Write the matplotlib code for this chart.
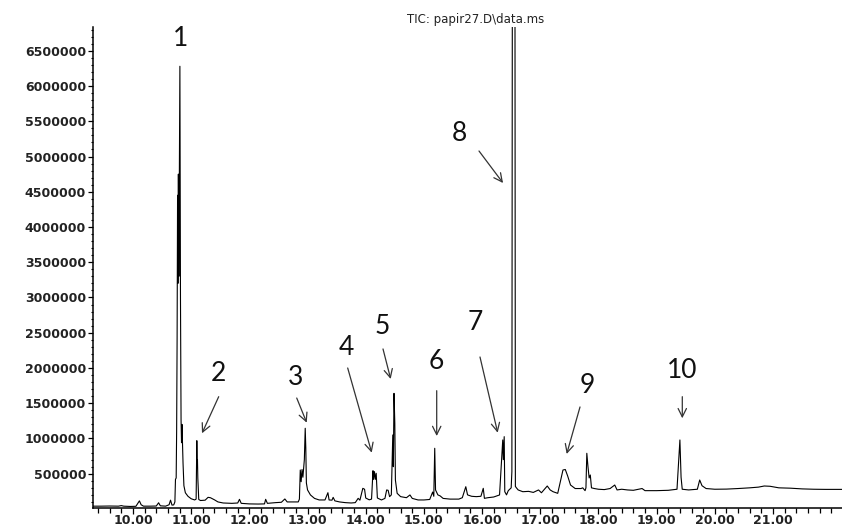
import matplotlib
matplotlib.use("Agg")
import matplotlib.pyplot as plt
from matplotlib.ticker import MultipleLocator, FixedLocator, FuncFormatter

# retention time (min) and TIC abundance
rt = [
    9.31, 9.45, 9.60, 9.75, 9.80, 9.84, 9.95, 10.05, 10.11, 10.14, 10.18, 10.30,
    10.40, 10.44, 10.47, 10.56, 10.62, 10.645, 10.67, 10.70, 10.72, 10.73, 10.742,
    10.75, 10.758, 10.766, 10.772, 10.780, 10.788, 10.796, 10.806, 10.816, 10.826,
    10.834, 10.842, 10.850, 10.860, 10.875, 10.90, 10.945, 11.00, 11.06, 11.085,
    11.097, 11.104, 11.108, 11.114, 11.13, 11.16, 11.24, 11.29, 11.33, 11.40, 11.46,
    11.55, 11.70, 11.80, 11.83, 11.86, 12.00, 12.15, 12.26, 12.28, 12.31, 12.45,
    12.55, 12.61, 12.65, 12.84, 12.86, 12.875, 12.89, 12.905, 12.92, 12.945, 12.96,
    12.97, 12.98, 13.00, 13.05, 13.12, 13.20, 13.30, 13.35, 13.37, 13.42, 13.44,
    13.47, 13.55, 13.65, 13.75, 13.82, 13.87, 13.90, 13.95, 13.98, 14.00, 14.06,
    14.10, 14.125, 14.135, 14.15, 14.165, 14.18, 14.20, 14.27, 14.33, 14.36, 14.385,
    14.41, 14.44, 14.465, 14.475, 14.486, 14.50, 14.51, 14.54, 14.60, 14.70, 14.76,
    14.80, 14.90, 15.00, 15.10, 15.15, 15.17, 15.186, 15.20, 15.24, 15.28, 15.33,
    15.45, 15.60, 15.66, 15.72, 15.75, 15.82, 15.90, 15.98, 16.02, 16.04, 16.10,
    16.20, 16.30, 16.355, 16.365, 16.38, 16.39, 16.42, 16.45, 16.50, 16.512, 16.52,
    16.565, 16.572, 16.59, 16.62, 16.70, 16.80, 16.88, 16.97, 17.02, 17.12, 17.17,
    17.22, 17.30, 17.39, 17.43, 17.47, 17.52, 17.60, 17.70, 17.73, 17.77, 17.785,
    17.80, 17.82, 17.84, 17.86, 17.88, 17.93, 18.00, 18.10, 18.20, 18.28, 18.32,
    18.40, 18.50, 18.60, 18.75, 18.80, 19.00, 19.20, 19.35, 19.40, 19.42, 19.44,
    19.55, 19.70, 19.74, 19.78, 19.85, 20.00, 20.20, 20.40, 20.60, 20.75, 20.85,
    20.95, 21.10, 21.30, 21.50, 21.70, 21.90, 22.19,
]
abundance = [
    40000, 40000, 42000, 40000, 48000, 40000, 36000, 38000, 115000, 60000, 40000, 40000,
    42000, 88000, 45000, 40000, 60000, 125000, 55000, 58000, 100000, 420000, 440000,
    1100000, 2400000, 4450000, 3200000, 4750000, 3300000, 4700000, 6280000, 3000000, 1260000,
    940000, 1200000, 940000, 650000, 330000, 230000, 180000, 145000, 128000, 140000,
    969000, 620000, 700000, 440000, 135000, 120000, 125000, 165000, 160000, 130000, 100000,
    85000, 80000, 85000, 137000, 80000, 72000, 70000, 72000, 137000, 80000, 90000,
    95000, 142000, 100000, 100000, 140000, 553000, 387000, 560000, 450000, 700000, 1145000,
    865000, 369000, 270000, 199000, 150000, 128000, 128000, 231000, 128000, 125000, 165000,
    115000, 100000, 90000, 85000, 90000, 151000, 125000, 293000, 280000, 156000, 130000,
    140000, 543000, 420000, 530000, 420000, 506000, 156000, 128000, 150000, 270000, 265000,
    175000, 200000, 1050000, 600000, 1640000, 1215000, 411000, 222000, 175000, 160000, 199000,
    150000, 128000, 128000, 135000, 240000, 180000, 861000, 270000, 200000, 185000, 150000,
    140000, 140000, 160000, 316000, 200000, 180000, 175000, 180000, 293000, 151000, 160000,
    170000, 199000, 979000, 700000, 1026000, 245000, 200000, 260000, 300000, 530000, 7500000,
    7500000, 320000, 300000, 270000, 245000, 250000, 235000, 270000, 230000, 326000, 270000,
    245000, 222000, 553000, 560000, 470000, 340000, 290000, 290000, 300000, 260000, 300000,
    790000, 600000, 440000, 482000, 300000, 290000, 280000, 275000, 290000, 340000, 270000,
    280000, 270000, 265000, 290000, 260000, 260000, 265000, 280000, 979000, 450000, 280000,
    270000, 280000, 411000, 330000, 290000, 280000, 282000, 290000, 300000, 310000, 326000,
    322000, 300000, 295000, 285000, 280000, 278000, 278000,
]

peak_names = ["1", "2", "3", "4", "5", "6", "7", "8", "9", "10"]

fig = plt.figure(figsize=(8.42, 5.24), dpi=100)
ax = fig.add_axes([93 / 842, 1 - 507.5 / 524, 1 - 93 / 842, 480.5 / 524])

ax.plot(rt, abundance, color="black", linewidth=0.8)

ax.set_xlim(9.3125, 22.186)
ax.set_ylim(21000, 6837000)

for side in ["top", "right"]:
    ax.spines[side].set_visible(False)
for side in ["left", "bottom"]:
    ax.spines[side].set_linewidth(1.1)

ax.xaxis.set_major_locator(FixedLocator(list(range(10, 22))))
ax.xaxis.set_minor_locator(MultipleLocator(0.2))
ax.xaxis.set_major_formatter(FuncFormatter(lambda v, p: f"{v:.2f}"))
ax.yaxis.set_major_locator(MultipleLocator(500000))
ax.yaxis.set_minor_locator(MultipleLocator(100000))
ax.yaxis.set_major_formatter(FuncFormatter(lambda v, p: f"{int(round(v))}"))

tick_font = {"family": "DejaVu Sans", "weight": "bold", "size": 9}
ax.tick_params(axis="x", which="major", length=4, width=0.9, pad=0.5, colors="black")
ax.tick_params(axis="x", which="minor", length=3.5, width=0.9)
ax.tick_params(axis="y", which="major", length=3.5, width=0.9, pad=1.5)
ax.tick_params(axis="y", which="minor", length=1.5, width=0.8)
for lab in ax.get_xticklabels() + ax.get_yticklabels():
    lab.set_fontproperties(tick_font)
    lab.set_color("#222222")

fig.text(476 / 842, 1 - 20 / 524, r"TIC: papir27.D\data.ms", ha="center", va="center",
         fontsize=8.5, family="DejaVu Sans", color="#222222")

# label centre, arrow tail, arrow tip (data coords)
label_pos = [(10.825, 6.68e6), (11.47, 1.915e6), (12.80, 1.872e6), (13.673, 2.291e6),
             (14.285, 2.586e6), (15.208, 2.099e6), (15.884, 2.645e6), (15.603, 5.326e6),
             (17.815, 1.745e6), (19.431, 1.967e6)]
arrows = [None,
          ((11.473, 1.593e6), (11.186, 1.074e6)),
          ((12.814, 1.574e6), (12.986, 1.224e6)),
          ((13.690, 2.0e6), (14.103, 0.799e6)),
          ((14.297, 2.27e6), (14.429, 1.844e6)),
          ((15.22, 1.678e6), (15.22, 1.035e6)),
          ((15.964, 2.156e6), (16.268, 1.082e6)),
          ((15.947, 5.078e6), (16.36, 4.624e6)),
          ((17.683, 1.447e6), (17.454, 0.78e6)),
          ((19.441, 1.593e6), (19.441, 1.287e6))]

for name, pos, arr in zip(peak_names, label_pos, arrows):
    ax.text(pos[0], pos[1], name, ha="center", va="center", fontsize=19,
            family="Lato", color="#111111")
    if arr is not None:
        ax.annotate("", xy=arr[1], xytext=arr[0],
                    arrowprops=dict(arrowstyle="->,head_length=0.6,head_width=0.3",
                                    color="#333333", linewidth=0.9,
                                    shrinkA=0, shrinkB=0, mutation_scale=10))

fig.savefig("out.png", dpi=100)
